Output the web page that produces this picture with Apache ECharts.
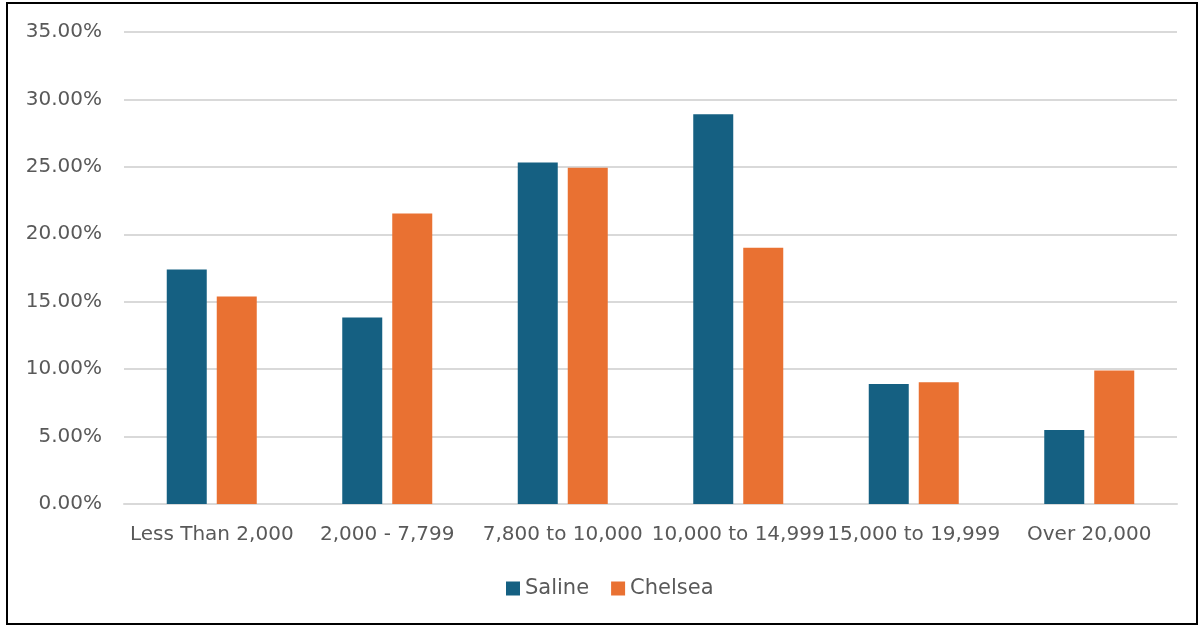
<!DOCTYPE html>
<html>
<head>
<meta charset="utf-8">
<script src="https://cdn.jsdelivr.net/npm/echarts@6/dist/echarts.min.js"></script>
<style>
  html, body { margin: 0; padding: 0; background: #fff; }
  #chart { width: 1202px; height: 627px; }
</style>
</head>
<body>
<div id="chart"></div>
<script>
// Income bands and the share of each community falling in them
const categories = ['Less Than 2,000', '2,000 - 7,799', '7,800 to 10,000', '10,000 to 14,999', '15,000 to 19,999', 'Over 20,000'];
const saline = [17.39, 13.83, 25.32, 28.90, 8.89, 5.49];
const chelsea = [15.39, 21.55, 24.94, 19.00, 9.03, 9.90];
const yTicks = { min: 0, max: 35, interval: 5 };

const textColor = '#595959';
const fontFamily = '"DejaVu Sans", sans-serif';

const chart = echarts.init(document.getElementById('chart'), null, { renderer: 'canvas' });

chart.setOption({
  animation: false,
  backgroundColor: '#ffffff',
  textStyle: { fontFamily: fontFamily, color: textColor },
  graphic: [{
    type: 'rect',
    shape: { x: 7, y: 3, width: 1190, height: 621 },
    style: { fill: 'none', stroke: '#000000', lineWidth: 2 },
    silent: true
  }],
  grid: { left: 124, right: 25, top: 32, bottom: 123, containLabel: false },
  legend: {
    top: 578,
    left: 506,
    padding: 0,
    itemWidth: 14,
    itemHeight: 14,
    itemGap: 22,
    icon: 'rect',
    textStyle: { fontSize: 21, color: textColor, fontFamily: fontFamily },
    data: ['Saline', 'Chelsea']
  },
  xAxis: {
    type: 'category',
    data: categories,
    axisLine: { show: true, lineStyle: { color: '#d9d9d9', width: 2 } },
    axisTick: { show: false },
    axisLabel: { color: textColor, fontSize: 20, margin: 21, interval: 0, fontFamily: fontFamily }
  },
  yAxis: {
    type: 'value',
    min: yTicks.min,
    max: yTicks.max,
    interval: yTicks.interval,
    axisLine: { show: false },
    axisTick: { show: false },
    splitLine: { lineStyle: { color: '#d9d9d9', width: 2 } },
    axisLabel: {
      color: textColor,
      fontSize: 20,
      margin: 22,
      fontFamily: fontFamily,
      formatter: v => v.toFixed(2) + '%'
    }
  },
  series: [
    {
      name: 'Saline',
      type: 'bar',
      data: saline,
      barWidth: 40,
      barGap: '25%',
      itemStyle: { color: '#156082' }
    },
    {
      name: 'Chelsea',
      type: 'bar',
      data: chelsea,
      barWidth: 40,
      barGap: '25%',
      itemStyle: { color: '#E97132' }
    }
  ]
});
</script>
</body>
</html>
